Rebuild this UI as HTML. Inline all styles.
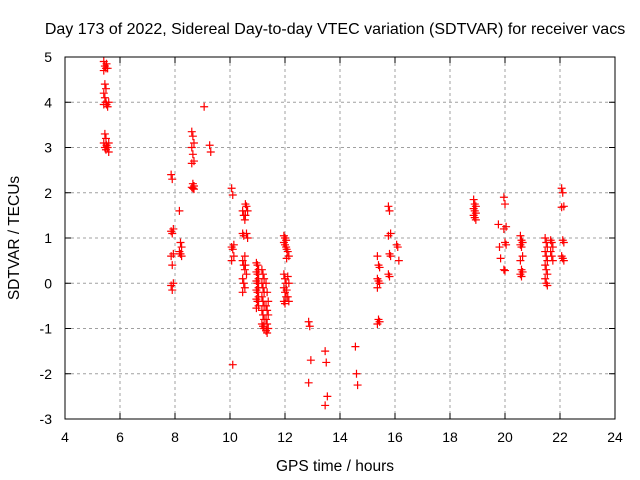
<!DOCTYPE html>
<html><head><meta charset="utf-8"><style>
body{margin:0;background:#fff}
svg{display:block;font-family:"Liberation Sans",sans-serif}
</style></head><body>
<svg width="640" height="480">
<rect width="640" height="480" fill="#fff"/>
<g id="grid"></g><g id="ticks"></g><g id="pts"></g>
<rect x="65" y="57" width="550" height="362" fill="none" stroke="#000"/>
<text x="335" y="34" text-anchor="middle" font-size="16">Day 173 of 2022, Sidereal Day-to-day VTEC variation (SDTVAR) for receiver vacs</text>
<text x="335" y="471" text-anchor="middle" font-size="15.5">GPS time / hours</text>
<text transform="translate(19,238) rotate(-90)" text-anchor="middle" font-size="15.5">SDTVAR / TECUs</text>
</svg>
<script>
const xTicks=[4,6,8,10,12,14,16,18,20,22,24];
const yTicks=[-3,-2,-1,0,1,2,3,4,5];
const groupX=[5.45,5.55,7.9,8.2,8.65,9.1,9.3,10.1,10.5,10.6,11.0,11.2,11.35,12.0,12.1,12.9,13.5,14.6,15.4,15.8,16.1,18.9,19.8,20.0,20.6,21.5,21.7,22.1];
const groupY=[
[4.9,4.8,4.75,4.7,4.4,4.3,4.2,4.1,4.0,3.95,3.3,3.2,3.1,3.0,2.95],
[4.85,4.75,4.0,3.95,3.9,3.1,3.05,3.0,2.9],
[2.4,2.3,1.2,1.15,1.1,0.65,0.6,0.4,0,-0.05,-0.15],
[1.6,0.9,0.8,0.7,0.65,0.6],
[3.35,3.25,3.1,3.0,2.85,2.7,2.65,2.2,2.15,2.12,2.1,2.08],
[3.9],
[3.05,2.9],
[2.1,1.95,0.85,0.8,0.75,0.6,0.5,-1.8],
[1.6,1.5,1.4,1.1,1.05,0.6,0.5,0.4,0.3,0.1,0,-0.1,-0.2],
[1.75,1.7,1.6,1.5,1.1,1.0,0.4,0.2],
[0.45,0.4,0.3,0.25,0.2,0.1,0.05,0,-0.1,-0.15,-0.2,-0.3,-0.35,-0.4,-0.5,-0.55],
[0.3,0.2,0.1,0,-0.1,-0.2,-0.3,-0.4,-0.5,-0.6,-0.7,-0.8,-0.9,-0.95,-1.0],
[0.0,-0.2,-0.4,-0.5,-0.6,-0.7,-0.8,-0.9,-1.0,-1.05,-1.1],
[1.05,1.0,0.95,0.9,0.85,0.8,0.2,0.1,0,-0.1,-0.2,-0.3,-0.4,-0.45],
[0.75,0.7,0.6,0.55,0.15,0,-0.15,-0.3,-0.4],
[-0.85,-0.95,-1.7,-2.2],
[-1.5,-1.75,-2.5,-2.7],
[-1.4,-2.0,-2.25],
[0.6,0.4,0.35,0.1,0.05,0,-0.1,-0.8,-0.85,-0.9],
[1.7,1.6,1.1,1.05,0.65,0.6,0.2,0.15],
[0.85,0.8,0.5],
[1.85,1.75,1.7,1.65,1.6,1.55,1.5,1.45,1.4],
[1.3,0.8,0.55],
[1.9,1.75,1.25,1.2,0.9,0.85,0.3,0.28],
[1.05,0.95,0.9,0.85,0.8,0.6,0.5,0.3,0.25,0.2,0.15],
[1.0,0.9,0.8,0.7,0.6,0.5,0.4,0.3,0.2,0.1,0,-0.05],
[0.95,0.9,0.8,0.7,0.6,0.5],
[2.1,2.0,1.7,1.68,0.95,0.9,0.6,0.55,0.5]
];
const NS="http://www.w3.org/2000/svg";
const X=v=>65+(v-4)*27.5, Y=v=>419-(v+3)*45.25;
const grid=document.getElementById('grid'),ticks=document.getElementById('ticks'),pts=document.getElementById('pts');
function mk(t,a,p){const e=document.createElementNS(NS,t);for(const k in a)e.setAttribute(k,a[k]);p.appendChild(e);return e;}
xTicks.forEach(v=>{
 if(v>4&&v<24){const g=mk('line',{x1:X(v),x2:X(v),y1:57,y2:419,stroke:'#a0a0a0','stroke-dasharray':'3,3'},grid);
 
 }
 mk('line',{x1:X(v),x2:X(v),y1:419,y2:413,stroke:'#000'},ticks);mk('line',{x1:X(v),x2:X(v),y1:57,y2:63,stroke:'#000'},ticks);
 const t=mk('text',{x:X(v),y:442,'text-anchor':'middle','font-size':14},ticks);t.textContent=v;
 
 
});
yTicks.forEach(v=>{
 if(v>-3&&v<5){const g=mk('line',{x1:65,x2:615,y1:Y(v),y2:Y(v),stroke:'#a0a0a0','stroke-dasharray':'3,3'},grid);
 
 }
 mk('line',{x1:65,x2:71,y1:Y(v),y2:Y(v),stroke:'#000'},ticks);mk('line',{x1:615,x2:609,y1:Y(v),y2:Y(v),stroke:'#000'},ticks);
 const t=mk('text',{x:52,y:Y(v)+5,'text-anchor':'end','font-size':14},ticks);t.textContent=v;
 
 
});
groupX.forEach((gx,i)=>{groupY[i].forEach((gy,j)=>{
 const xv=gx+((j%3)-1)*0.04;
 const cx=X(xv),cy=Y(gy);
 const p=mk('path',{d:`M${cx-4},${cy}H${cx+4}M${cx},${cy-4}V${cy+4}`,stroke:'#f00','stroke-width':1.2,fill:'none'},pts);
 
 
});});
</script>
</body></html>
